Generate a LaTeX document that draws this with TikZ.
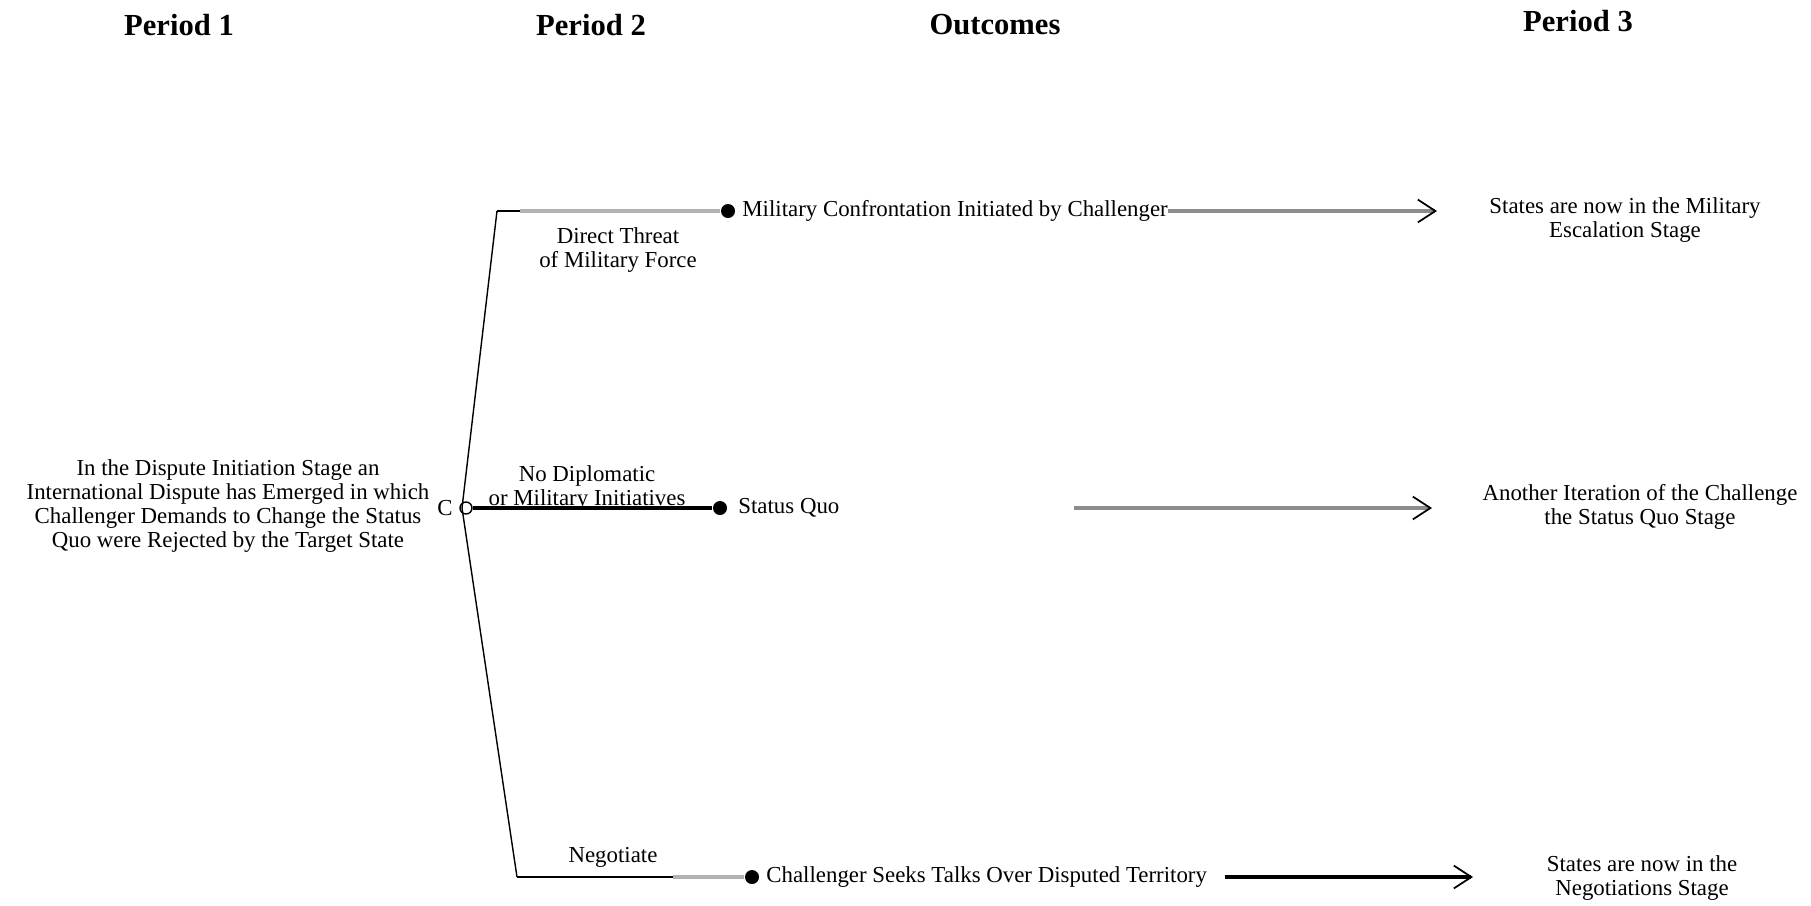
\documentclass[tikz,border=0pt]{standalone}
\usepackage{fontspec}
\setmainfont{Liberation Serif}
\usetikzlibrary{arrows.meta,positioning}

\begin{document}
\begin{tikzpicture}[x=0.01cm,y=-0.01cm,node distance=1mm,
title/.style={font=\fontsize{8.7}{10}\selectfont\bfseries},
lbl/.style={align=center,inner sep=0pt,font=\fontsize{6.5}{6.8}\selectfont},
dot/.style={circle,fill=black,inner sep=0pt,minimum size=1.4mm},
tree/.style={line width=0.4pt},
branch/.style={line width=1.1pt,draw=black!30},
arrow/.style={line width=0.9pt,-{Straight Barb[length=5pt,width=6.5pt,color=black,line width=0.5pt]}}]
\useasboundingbox (0,0) rectangle (1811,905);
\node[title] (p1) at (179,25) {Period 1};
\node[title] (p2) at (591,25) {Period 2};
\node[title] (out) at (995,25) {Outcomes};
\node[title] (p3) at (1578,21) {Period 3};
\node[lbl] (stage) at (228,506) {In the Dispute Initiation Stage an\\International Dispute has Emerged in which\\Challenger Demands to Change the Status\\Quo were Rejected by the Target State};
\node[circle,draw,inner sep=0pt,minimum size=1.2mm] (c) at (466,508) {};
\node[lbl] (clbl) at (445,508) {C};
\coordinate (fork) at (462,508);
\coordinate (top) at (497,211);
\coordinate (topg) at (520,211);
\coordinate (bot) at (517,877);
\coordinate (botg) at (673,877);
\node[dot] (mil) at (728,211) {};
\node[dot] (sq) at (720,508) {};
\node[dot] (neg) at (752,877) {};
\node[lbl,right=0.6mm of mil] (miltxt) {Military Confrontation Initiated by Challenger};
\node[lbl,right=1mm of sq] (sqtxt) {Status Quo};
\node[lbl,right=0.6mm of neg] (negtxt) {Challenger Seeks Talks Over Disputed Territory};
\node[lbl] (threat) at (618,250) {Direct Threat\\of Military Force};
\node[lbl] (none) at (587,488) {No Diplomatic\\or Military Initiatives};
\node[lbl] (nego) at (613,857) {Negotiate};
\node[lbl] (esc) at (1625,220) {States are now in the Military\\Escalation Stage};
\node[lbl] (iter) at (1640,507) {Another Iteration of the Challenge\\the Status Quo Stage};
\node[lbl] (negst) at (1642,878) {States are now in the\\Negotiations Stage};
\coordinate (a1) at (1437,211);
\coordinate (a2s) at (1074,508);
\coordinate (a2) at (1432,508);
\coordinate (a3) at (1473,877);
\draw[tree] (top) -- (fork) -- (bot); \draw[tree] (top) -- (topg); \draw[tree] (bot) -- (botg);
\draw[branch] (topg) -- (mil); \draw[branch] (botg) -- (neg); \draw[line width=0.9pt] (c) -- (sq);
\draw[arrow,draw=black!45] (miltxt) -- (a1); \draw[arrow,draw=black!45] (a2s) -- (a2); \draw[arrow,shorten <=1.7mm] (negtxt) -- (a3);
\end{tikzpicture}
\end{document}
